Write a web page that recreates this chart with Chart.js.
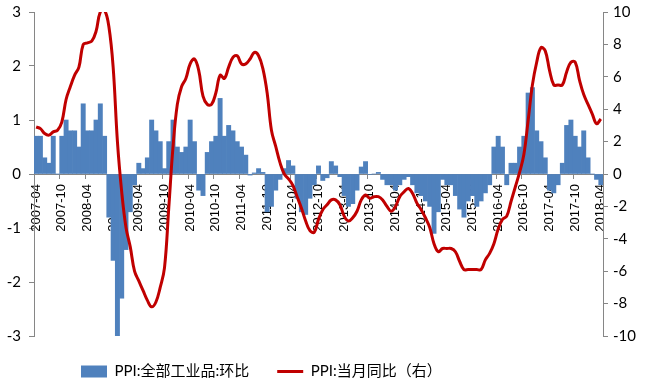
<!DOCTYPE html>
<html><head><meta charset="utf-8">
<script src="https://cdn.jsdelivr.net/npm/chart.js@4.4.1/dist/chart.umd.min.js"></script>
<style>html,body{margin:0;padding:0;background:#fff;}#wrap{width:645px;height:382px;position:relative;}</style>
</head><body><div id="wrap"><canvas id="c"></canvas></div>
<script>
// Categories (monthly, 2007-04 .. 2018-04)
const months = [
'2007-04','2007-05','2007-06','2007-07','2007-08','2007-09','2007-10','2007-11','2007-12',
'2008-01','2008-02','2008-03','2008-04','2008-05','2008-06','2008-07','2008-08','2008-09','2008-10','2008-11','2008-12',
'2009-01','2009-02','2009-03','2009-04','2009-05','2009-06','2009-07','2009-08','2009-09','2009-10','2009-11','2009-12',
'2010-01','2010-02','2010-03','2010-04','2010-05','2010-06','2010-07','2010-08','2010-09','2010-10','2010-11','2010-12',
'2011-01','2011-02','2011-03','2011-04','2011-05','2011-06','2011-07','2011-08','2011-09','2011-10','2011-11','2011-12',
'2012-01','2012-02','2012-03','2012-04','2012-05','2012-06','2012-07','2012-08','2012-09','2012-10','2012-11','2012-12',
'2013-01','2013-02','2013-03','2013-04','2013-05','2013-06','2013-07','2013-08','2013-09','2013-10','2013-11','2013-12',
'2014-01','2014-02','2014-03','2014-04','2014-05','2014-06','2014-07','2014-08','2014-09','2014-10','2014-11','2014-12',
'2015-01','2015-02','2015-03','2015-04','2015-05','2015-06','2015-07','2015-08','2015-09','2015-10','2015-11','2015-12',
'2016-01','2016-02','2016-03','2016-04','2016-05','2016-06','2016-07','2016-08','2016-09','2016-10','2016-11','2016-12',
'2017-01','2017-02','2017-03','2017-04','2017-05','2017-06','2017-07','2017-08','2017-09','2017-10','2017-11','2017-12',
'2018-01','2018-02','2018-03','2018-04'
];
// PPI: all industrial products, month-on-month (%), left axis
const momValues = [
0.7,0.7,0.3,0.2,0.7,0.0,0.7,1.0,0.8,
0.8,0.5,1.3,0.8,0.8,1.0,1.3,0.7,-0.8,-1.6,-3.0,-2.3,
-1.4,-0.7,-0.2,0.2,0.1,0.3,1.0,0.8,0.6,0.1,0.6,1.0,
0.5,0.4,0.5,1.0,0.6,-0.3,-0.4,0.4,0.6,0.7,1.4,0.7,
0.9,0.8,0.6,0.5,0.35,-0.02,0.02,0.1,0.03,-0.7,-0.6,-0.3,
-0.1,0.1,0.25,0.15,-0.45,-0.7,-0.75,-0.45,-0.2,0.15,-0.12,-0.07,
0.23,0.15,-0.05,-0.4,-0.6,-0.55,-0.3,0.13,0.23,-0.01,0.0,0.03,
-0.1,-0.2,-0.2,-0.3,-0.2,-0.1,-0.05,-0.2,-0.35,-0.4,-0.5,-0.6,
-1.1,-0.7,-0.1,-0.2,-0.2,-0.4,-0.65,-0.8,-0.5,-0.4,-0.6,-0.5,
-0.35,-0.2,0.5,0.7,0.5,-0.2,0.2,0.2,0.5,0.7,1.5,1.6,
0.8,0.6,0.3,-0.3,-0.35,-0.2,0.2,0.9,1.0,0.7,0.5,0.8,
0.3,0.0,-0.1,-0.2
];
// PPI: year-on-year (%), right axis
const yoyValues = [
2.9,2.8,2.5,2.4,2.6,2.7,3.2,4.6,5.4,
6.1,6.6,8.0,8.1,8.2,8.8,10.0,10.1,9.1,6.6,2.0,-1.1,
-3.3,-4.5,-6.0,-6.6,-7.2,-7.8,-8.2,-7.9,-7.0,-5.8,-2.1,1.7,
4.3,5.4,5.9,6.8,7.1,6.4,4.8,4.3,4.3,5.0,6.1,5.9,
6.6,7.2,7.3,6.8,6.8,7.1,7.5,7.3,6.5,5.0,2.7,1.7,
0.7,0.0,-0.3,-0.7,-1.4,-2.1,-2.9,-3.5,-3.6,-2.8,-2.2,-1.9,
-1.6,-1.6,-1.9,-2.6,-2.9,-2.7,-2.3,-1.6,-1.3,-1.5,-1.4,-1.4,
-1.6,-2.0,-2.3,-2.0,-1.4,-1.1,-0.9,-1.2,-1.8,-2.2,-2.7,-3.3,
-4.3,-4.8,-4.6,-4.6,-4.6,-4.8,-5.4,-5.9,-5.9,-5.9,-5.9,-5.9,
-5.3,-4.9,-4.3,-3.4,-2.8,-2.6,-1.7,-0.8,0.1,1.2,3.3,5.5,
6.9,7.8,7.6,6.4,5.5,5.5,5.5,6.3,6.9,6.9,5.8,4.9,
4.3,3.7,3.1,3.4
];
const leftTicks = [-3,-2,-1,0,1,2,3];
const rightTicks = [-10,-8,-6,-4,-2,0,2,4,6,8,10];
const seriesNames = ['PPI:全部工业品:环比','PPI:当月同比（右）'];
const labelEvery = 6;

Chart.defaults.font.family = "Lato, 'Noto Sans CJK SC', sans-serif";
Chart.defaults.color = '#000';

const AXIS = '#868686';

const legendFix = {
  id: 'legendFix',
  beforeLayout(chart) {
    const lg = chart.legend;
    if (lg && !lg.__patched) {
      const f = lg.fit;
      lg.fit = function () { f.call(this); this.height = 46; };
      lg.__patched = true;
    }
  },
  afterLayout(chart) {
    if (chart.legend) chart.legend.left = 53;
  }
};

function fitY(width) {
  return s => { s.width = width; s.paddingTop = 0; s.paddingBottom = 0; };
}

new Chart(document.getElementById('c'), {
  data: {
    labels: months,
    datasets: [
      {
        type: 'bar', label: seriesNames[0], data: momValues, yAxisID: 'y',
        backgroundColor: '#4F81BD', borderWidth: 0, order: 1, pointStyle: 'rect',
        categoryPercentage: 1.0, barPercentage: 1.0
      },
      {
        type: 'line', label: seriesNames[1], data: yoyValues, yAxisID: 'y1',
        borderColor: '#C00000', backgroundColor: '#C00000', borderWidth: 3,
        pointRadius: 0, tension: 0.4, order: 0, pointStyle: 'line'
      }
    ]
  },
  options: {
    responsive: true, maintainAspectRatio: false, animation: false,
    layout: { padding: { top: 12, left: 0, right: 0, bottom: 0 } },
    plugins: {
      tooltip: { enabled: false },
      legend: {
        position: 'bottom', align: 'start',
        labels: {
          usePointStyle: true, pointStyleWidth: 26, boxHeight: 12, padding: 28,
          color: '#000', font: { size: 15 },
          sort: (a, b) => a.datasetIndex - b.datasetIndex
        }
      }
    },
    scales: {
      x: {
        type: 'category', position: { y: 0 }, offset: true,
        grid: {
          offset: true, drawOnChartArea: false, drawTicks: true, tickLength: 4,
          color: c => (c.index % labelEvery === 0 ? AXIS : 'rgba(0,0,0,0)')
        },
        border: { color: AXIS, width: 1 },
        ticks: {
          autoSkip: false, maxRotation: 90, minRotation: 90, padding: 6, color: '#000',
          font: { family: "'Liberation Sans', Arial, sans-serif", size: 13 },
          callback: function (v, i) { return i % labelEvery === 0 ? this.getLabelForValue(v) : ''; }
        },
        afterFit: s => { s.height = 0; }
      },
      y: {
        position: 'left', min: -3, max: 3,
        afterBuildTicks: s => { s.ticks = leftTicks.map(v => ({ value: v })); },
        ticks: { padding: 8, color: '#000', font: { size: 15 } },
        grid: { drawOnChartArea: false, drawTicks: true, tickLength: 5, color: AXIS },
        border: { color: AXIS },
        afterFit: fitY(34)
      },
      y1: {
        position: 'right', min: -10, max: 10,
        afterBuildTicks: s => { s.ticks = rightTicks.map(v => ({ value: v })); },
        ticks: { padding: 5, color: '#000', font: { size: 15 } },
        grid: { drawOnChartArea: false, drawTicks: true, tickLength: 5, color: AXIS },
        border: { color: AXIS },
        afterFit: fitY(42)
      }
    }
  },
  plugins: [legendFix]
});
</script></body></html>
